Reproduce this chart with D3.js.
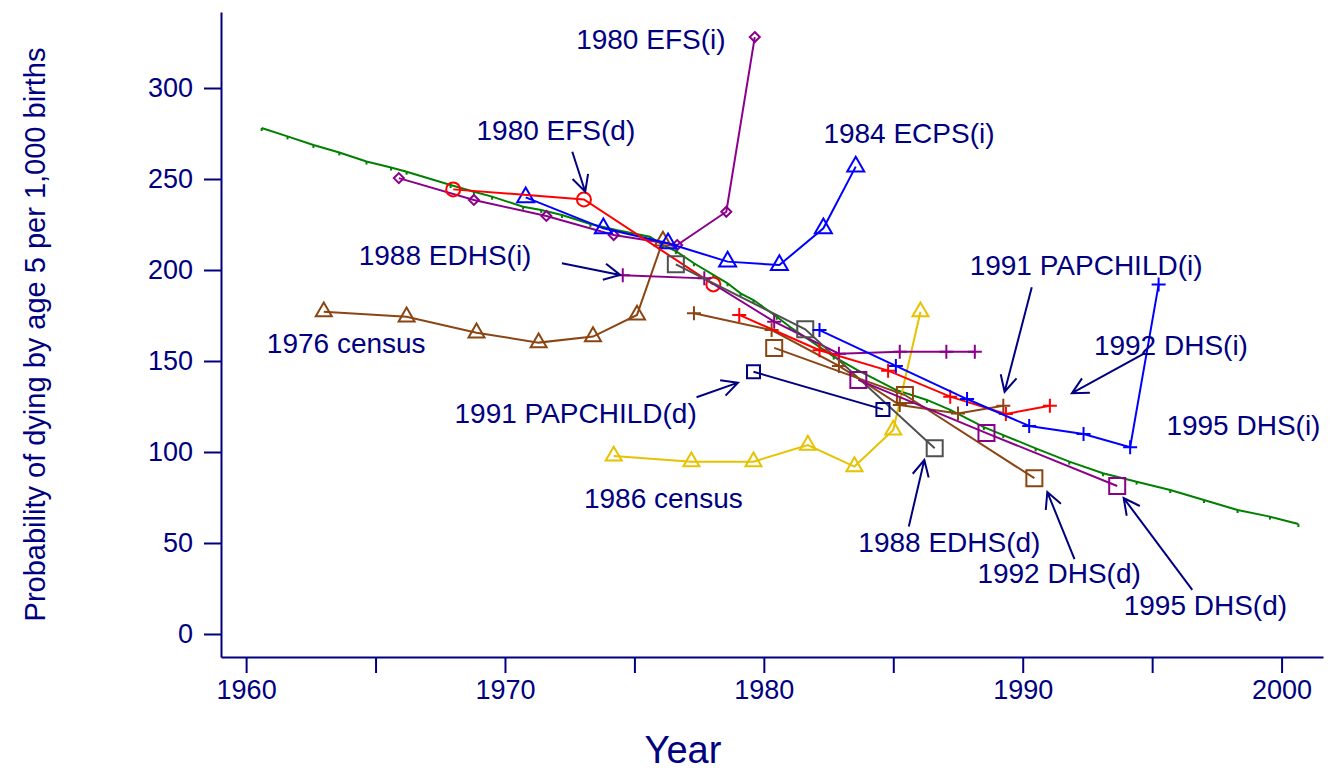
<!DOCTYPE html>
<html>
<head>
<meta charset="UTF-8" />
<title>Under-five mortality estimates</title>
<style>
  body { margin: 0; background: #ffffff; }
  svg { font-family: "Liberation Sans", Arial, Helvetica, sans-serif; }
  .axis path, .axis line { stroke: #000080; stroke-width: 2px; }
  .axis text { fill: #000080; font-size: 27px; }
  .note { fill: #000080; font-size: 28px; }
</style>
<script src="https://d3js.org/d3.v7.min.js"></script>
</head>
<body>
<div id="chart"></div>
<script>
  // fitted trend (green)
  const trendYears = [1960.6, 1961.6, 1962.6, 1963.6, 1964.65, 1965.6, 1966.2, 1967.9, 1968.8, 1969.5,
    1970.7, 1971.4, 1972.2, 1973.3, 1974.3, 1975.6, 1976.1, 1976.6, 1977.3, 1978.05, 1978.6, 1979.1,
    1979.6, 1980.5, 1981.0, 1982.7, 1983.6, 1985.1, 1986.3, 1987.2, 1988.5, 1989.25, 1990.5, 1991.8,
    1993.1, 1994.4, 1995.7, 1997.0, 1998.3, 1999.55, 2000.65];
  const trendValues = [278.0, 273.4, 268.7, 264.6, 259.6, 256.3, 254.0, 246.7, 243.0, 240.3,
    234.8, 233.0, 230.2, 225.3, 222.0, 218.3, 213.7, 210.4, 203.7, 197.3, 192.7, 187.2,
    183.5, 174.3, 168.8, 152.4, 145.1, 134.1, 128.6, 123.1, 113.7, 109.3, 102.0, 94.7,
    88.3, 83.7, 79.1, 73.6, 68.1, 64.5, 60.4];

  // survey and census estimates
  const efsIndYears = [1965.9, 1968.8, 1971.6, 1974.2, 1976.65, 1978.55, 1979.65];
  const efsIndValues = [250.5, 238.5, 229.7, 219.2, 213.7, 232.0, 328.0];

  const efsDirYears = [1968.0, 1973.05, 1978.05];
  const efsDirValues = [244.3, 238.8, 192.1];

  const ecpsIndYears = [1970.8, 1973.8, 1976.3, 1978.6, 1980.6, 1982.3, 1983.55];
  const ecpsIndValues = [239.9, 222.9, 214.7, 204.6, 202.7, 222.9, 256.8];

  const edhsIndYears = [1974.55, 1977.7, 1980.4, 1982.9, 1985.25, 1987.05, 1988.15];
  const edhsIndValues = [197.1, 195.4, 171.6, 154.0, 155.1, 155.1, 155.1];

  const census76Years = [1963.0, 1966.2, 1968.9, 1971.3, 1973.4, 1975.1, 1976.1];
  const census76Values = [177.1, 174.3, 165.5, 160.1, 163.4, 175.3, 216.0];

  const census86Years = [1974.2, 1977.2, 1979.6, 1981.7, 1983.5, 1985.0, 1986.05];
  const census86Values = [97.8, 94.7, 94.7, 103.8, 92.0, 112.1, 177.1];

  const edhsDirYears = [1976.6, 1981.6, 1986.6];
  const edhsDirValues = [203.1, 167.4, 102.0];

  const papDirYears = [1979.6, 1984.6];
  const papDirValues = [144.1, 123.4];

  const dhs92DirYears = [1980.4, 1985.45, 1990.45];
  const dhs92DirValues = [157.2, 131.3, 85.6];

  const papIndYears = [1977.3, 1980.3, 1982.9, 1985.25, 1987.5, 1989.25];
  const papIndValues = [176.2, 167.0, 147.3, 125.8, 121.2, 125.4];

  const dhs92IndYears = [1979.05, 1982.15, 1984.8, 1987.2, 1989.35, 1991.05];
  const dhs92IndValues = [175.3, 155.9, 144.7, 130.4, 120.9, 125.4];

  const dhs95IndYears = [1982.15, 1985.1, 1987.85, 1990.25, 1992.35, 1994.15, 1995.25];
  const dhs95IndValues = [167.0, 147.3, 129.1, 114.3, 109.9, 102.6, 192.0];

  const dhs95DirYears = [1983.65, 1988.6, 1993.65];
  const dhs95DirValues = [139.6, 110.4, 81.3];

  // annotation labels: text, year, value at baseline-left
  const labelTexts = ["1980 EFS(i)", "1980 EFS(d)", "1984 ECPS(i)", "1988 EDHS(i)", "1976 census",
    "1991 PAPCHILD(d)", "1986 census", "1991 PAPCHILD(i)", "1992 DHS(i)", "1995 DHS(i)",
    "1988 EDHS(d)", "1992 DHS(d)", "1995 DHS(d)"];
  const labelYears = [1972.75, 1968.9, 1982.3, 1964.35, 1960.8, 1968.05, 1973.05, 1987.95, 1992.75,
    1995.55, 1983.65, 1988.25, 1993.9];
  const labelValues = [321.4, 271.4, 269.8, 202.7, 154.4, 115.9, 69.2, 197.3, 153.3, 109.3, 45.1, 28.0, 10.4];

  // arrows: tail (year, value) -> head (year, value)
  const arrowTail = [[1972.6, 265.0], [1972.2, 203.7], [1977.4, 130.1], [1985.6, 59.1], [1992.0, 41.2],
    [1996.55, 24.2], [1990.35, 190.5], [1994.7, 154.2]];
  const arrowHead = [[1973.1, 243.0], [1974.45, 197.3], [1979.0, 138.1], [1986.2, 95.6], [1990.95, 78.0],
    [1993.9, 74.7], [1989.3, 133.1], [1991.9, 132.3]];

  const xTicks = [1960, 1965, 1970, 1975, 1980, 1985, 1990, 1995, 2000];
  const yTicks = [0, 50, 100, 150, 200, 250, 300];

  const W = 1336, H = 771;
  const plot = { left: 221, right: 1323, top: 12, bottom: 657 };

  const x = d3.scaleLinear().domain([1959.03, 2001.6]).range([plot.left, plot.right]);
  const y = d3.scaleLinear().domain([-12.64, 341.76]).range([plot.bottom, plot.top]);

  const svg = d3.select("#chart").append("svg")
    .attr("width", W)
    .attr("height", H);

  /* Axes */
  svg.append("g")
    .attr("class", "axis")
    .attr("transform", "translate(" + plot.left + ",0)")
    .call(d3.axisLeft(y).tickValues(yTicks).tickSize(17).tickSizeOuter(0).tickPadding(11));

  svg.append("g")
    .attr("class", "axis")
    .attr("transform", "translate(0," + plot.bottom + ")")
    .call(d3.axisBottom(x).tickValues(xTicks).tickSize(16).tickSizeOuter(0).tickPadding(7)
      .tickFormat(d => d % 10 === 0 ? d : ""));

  svg.append("text")
    .attr("class", "note")
    .attr("x", 683).attr("y", 763)
    .attr("text-anchor", "middle")
    .style("font-size", "38px")
    .text("Year");

  svg.append("text")
    .attr("class", "note")
    .attr("transform", "translate(45," + ((plot.top + plot.bottom) / 2) + ") rotate(-90)")
    .attr("text-anchor", "middle")
    .style("font-size", "29px")
    .text("Probability of dying by age 5 per 1,000 births");

  /* Marker shapes */
  const shapes = {
    triangle: s => { const h = s * Math.sqrt(3) / 2; return `M0,${-2 * h / 3}L${s / 2},${h / 3}L${-s / 2},${h / 3}Z`; },
    square: s => `M${-s / 2},${-s / 2}h${s}v${s}h${-s}Z`,
    circle: s => `M${s / 2},0A${s / 2},${s / 2} 0 1,1 ${-s / 2},0A${s / 2},${s / 2} 0 1,1 ${s / 2},0Z`,
    diamond: s => `M0,${-s / 2}L${s / 2},0L0,${s / 2}L${-s / 2},0Z`,
    plus: s => `M${-s / 2},0H${s / 2}M0,${-s / 2}V${s / 2}`,
    tick: s => `M0,0V${s}`
  };

  const series = [
    { xs: trendYears, ys: trendValues, color: "#008000", shape: "tick", size: 3 },
    { xs: census76Years, ys: census76Values, color: "#8b4513", shape: "triangle", size: 16 },
    { xs: census86Years, ys: census86Values, color: "#e6c200", shape: "triangle", size: 16 },
    { xs: efsIndYears, ys: efsIndValues, color: "#8b008b", shape: "diamond", size: 10 },
    { xs: ecpsIndYears, ys: ecpsIndValues, color: "#0000ff", shape: "triangle", size: 17 },
    { xs: efsDirYears, ys: efsDirValues, color: "#ff0000", shape: "circle", size: 14 },
    { xs: edhsIndYears, ys: edhsIndValues, color: "#8b008b", shape: "plus", size: 14 },
    { xs: edhsDirYears, ys: edhsDirValues, color: "#505050", shape: "square", size: 16 },
    { xs: papDirYears, ys: papDirValues, color: "#000080", shape: "square", size: 13 },
    { xs: papIndYears, ys: papIndValues, color: "#8b4513", shape: "plus", size: 14 },
    { xs: dhs92DirYears, ys: dhs92DirValues, color: "#8b4513", shape: "square", size: 16 },
    { xs: dhs92IndYears, ys: dhs92IndValues, color: "#ff0000", shape: "plus", size: 14 },
    { xs: dhs95IndYears, ys: dhs95IndValues, color: "#0000ff", shape: "plus", size: 14 },
    { xs: dhs95DirYears, ys: dhs95DirValues, color: "#8b008b", shape: "square", size: 16 }
  ];

  const line = d3.line().x(d => x(d[0])).y(d => y(d[1]));

  series.forEach(s => {
    const pts = s.xs.map((v, i) => [v, s.ys[i]]);
    const g = svg.append("g");
    g.append("path")
      .attr("d", line(pts))
      .attr("fill", "none")
      .attr("stroke", s.color)
      .attr("stroke-width", 2);
    g.selectAll("path.mark")
      .data(pts)
      .enter()
      .append("path")
      .attr("class", "mark")
      .attr("transform", d => "translate(" + x(d[0]) + "," + y(d[1]) + ")")
      .attr("d", shapes[s.shape](s.size))
      .attr("fill", "none")
      .attr("stroke", s.color)
      .attr("stroke-width", 2);
  });

  /* Annotation arrows */
  const arrowLen = 18, arrowAngle = 27 * Math.PI / 180;
  arrowTail.forEach((t, i) => {
    const x1 = x(t[0]), y1 = y(t[1]);
    const x2 = x(arrowHead[i][0]), y2 = y(arrowHead[i][1]);
    const a = Math.atan2(y1 - y2, x1 - x2);
    const d = `M${x1},${y1}L${x2},${y2}` +
      `M${x2 + arrowLen * Math.cos(a + arrowAngle)},${y2 + arrowLen * Math.sin(a + arrowAngle)}L${x2},${y2}` +
      `L${x2 + arrowLen * Math.cos(a - arrowAngle)},${y2 + arrowLen * Math.sin(a - arrowAngle)}`;
    svg.append("path")
      .attr("d", d)
      .attr("fill", "none")
      .attr("stroke", "#000080")
      .attr("stroke-width", 2);
  });

  svg.selectAll("text.label")
    .data(labelTexts)
    .enter()
    .append("text")
    .attr("class", "note label")
    .attr("x", (d, i) => x(labelYears[i]))
    .attr("y", (d, i) => y(labelValues[i]))
    .text(d => d);
</script>
</body>
</html>
